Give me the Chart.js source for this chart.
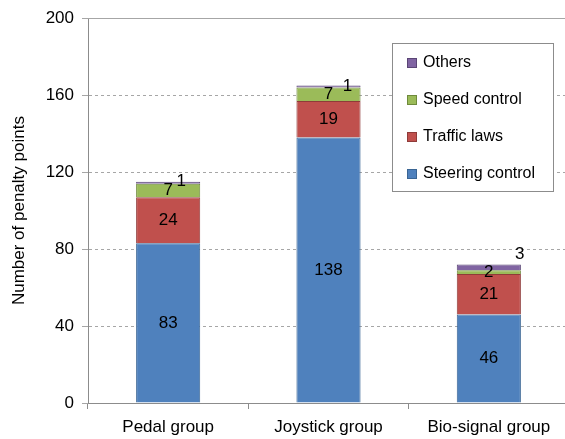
<!DOCTYPE html>
<html><head><meta charset="utf-8">
<script src="https://cdn.jsdelivr.net/npm/chart.js@4/dist/chart.umd.min.js"></script>
<style>html,body{margin:0;padding:0;background:#fff;overflow:hidden}#wrap{width:572px;height:439px}</style>
</head><body><div id="wrap"><canvas id="c" width="572" height="439"></canvas></div>
<script>
// Penalty points per group, split by type of error
const groups = ['Pedal group', 'Joystick group', 'Bio-signal group'];
const steeringControl = [83, 138, 46];
const trafficLaws = [24, 19, 21];
const speedControl = [7, 7, 2];
const others = [1, 1, 3];
const yTicks = [0, 40, 80, 120, 160, 200];

const FONT = 'Liberation Sans, Arial, sans-serif';

// value labels: centred in each segment, the thin top segment is nudged aside
const valueLabels = {
  id: 'valueLabels',
  afterDatasetsDraw(chart, args, opts) {
    const ctx = chart.ctx;
    ctx.save();
    ctx.font = '17px ' + FONT;
    ctx.fillStyle = '#000';
    ctx.textAlign = 'center';
    ctx.textBaseline = 'middle';
    chart.data.datasets.forEach((ds, i) => {
      const meta = chart.getDatasetMeta(i);
      meta.data.forEach((bar, j) => {
        let x = bar.x, y = (bar.y + bar.base) / 2;
        if (i === chart.data.datasets.length - 1) {
          const n = opts.topNudge[j];
          x += n[0]; y = bar.y + n[1];
        }
        ctx.fillText(String(ds.data[j]), x, y);
      });
    });
    ctx.restore();
  }
};

// boxed legend inside the plot, listed top segment first
const boxLegend = {
  id: 'boxLegend',
  afterDraw(chart) {
    const ctx = chart.ctx;
    const a = chart.chartArea;
    // solid top edge of the plot area
    ctx.save();
    ctx.strokeStyle = '#a6a6a6';
    ctx.lineWidth = 1;
    ctx.beginPath();
    ctx.moveTo(a.left, Math.round(a.top) + 0.5);
    ctx.lineTo(a.right, Math.round(a.top) + 0.5);
    ctx.stroke();

    const bx = 392.5, by = 43.5, bw = 161, bh = 148;
    ctx.fillStyle = '#fff';
    ctx.fillRect(bx, by, bw, bh);
    ctx.strokeStyle = '#8c8c8c';
    ctx.strokeRect(bx, by, bw, bh);
    ctx.font = '16px ' + FONT;
    ctx.textBaseline = 'middle';
    ctx.textAlign = 'left';
    const ds = chart.data.datasets.slice().reverse();
    ds.forEach((d, k) => {
      const cy = 63 + k * 37;
      ctx.fillStyle = d.backgroundColor;
      ctx.fillRect(407, cy - 5, 10, 10);
      ctx.strokeStyle = d.borderColor;
      ctx.strokeRect(407.5, cy - 4.5, 9, 9);
      ctx.fillStyle = '#000';
      ctx.fillText(d.label, 423, cy);
    });
    ctx.restore();
  }
};

new Chart(document.getElementById('c'), {
  type: 'bar',
  data: {
    labels: groups,
    datasets: [
      { label: 'Steering control', data: steeringControl, backgroundColor: '#4f81bd', borderColor: '#3a6594' },
      { label: 'Traffic laws', data: trafficLaws, backgroundColor: '#c0504d', borderColor: '#8f3b39' },
      { label: 'Speed control', data: speedControl, backgroundColor: '#9bbb59', borderColor: '#6f8a3c' },
      { label: 'Others', data: others, backgroundColor: '#8064a2', borderColor: '#5a4575' }
    ]
  },
  options: {
    responsive: false,
    animation: false,
    layout: { padding: { left: 0, top: 18, right: 3, bottom: 0 } },
    datasets: { bar: { barPercentage: 0.4, categoryPercentage: 1, borderWidth: 1 } },
    plugins: {
      legend: { display: false },
      tooltip: { enabled: false },
      valueLabels: { topNudge: [[13, 0], [19, 1], [31, -10]] }
    },
    scales: {
      x: {
        stacked: true,
        offset: true,
        grid: { offset: true, drawOnChartArea: false, drawTicks: true, tickLength: 6, color: '#8c8c8c' },
        border: { color: '#8c8c8c' },
        ticks: { color: '#000', font: { family: FONT, size: 17 }, padding: 8 },
        afterFit: s => { s.height = 36; }
      },
      y: {
        stacked: true,
        min: 0,
        max: 200,
        afterBuildTicks: s => { s.ticks = yTicks.map(v => ({ value: v })); },
        grid: { color: '#a6a6a6', tickLength: 6, drawTicks: true },
        border: { color: '#8c8c8c', dash: [3, 3] },
        ticks: { color: '#000', font: { family: FONT, size: 17 }, padding: 8 },
        title: { display: true, text: 'Number of penalty points', color: '#000', font: { family: FONT, size: 17 }, padding: { top: 9, bottom: 0 } },
        afterFit: s => { s.width = 88; }
      }
    }
  },
  plugins: [valueLabels, boxLegend]
});
</script>
</body></html>
